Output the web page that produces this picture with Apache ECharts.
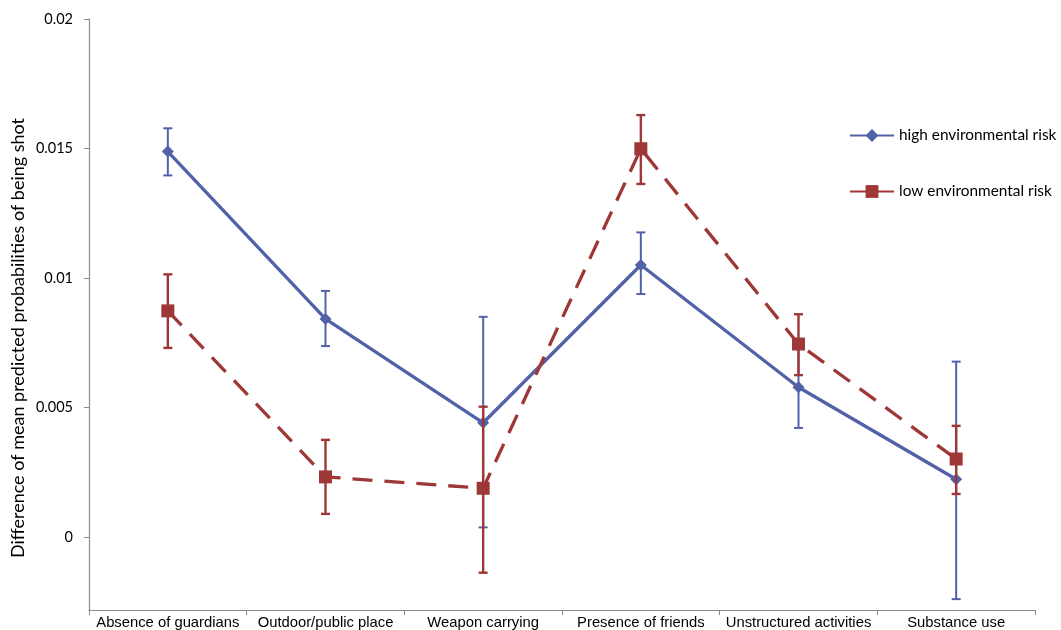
<!DOCTYPE html>
<html>
<head>
<meta charset="utf-8">
<script src="https://cdn.jsdelivr.net/npm/echarts@6/dist/echarts.min.js"></script>
<style>
html,body{margin:0;padding:0;background:#fff;}
#chart{width:1061px;height:630px;}
</style>
</head>
<body>
<div id="chart"></div>
<script>
// ---- data ----
var categories = ['Absence of guardians', 'Outdoor/public place', 'Weapon carrying', 'Presence of friends', 'Unstructured activities', 'Substance use'];
var highName = 'high environmental risk';
var lowName = 'low environmental risk';
var highValues = [0.01488, 0.00842, 0.00441, 0.01050, 0.00578, 0.00223];
var highLower  = [0.01396, 0.00737, 0.00037, 0.00938, 0.00421, -0.00240];
var highUpper  = [0.01578, 0.00950, 0.00850, 0.01176, 0.00740, 0.00677];
var lowValues  = [0.00873, 0.00232, 0.00188, 0.01499, 0.00745, 0.00301];
var lowLower   = [0.00730, 0.00089, -0.00138, 0.01363, 0.00625, 0.00166];
var lowUpper   = [0.01014, 0.00375, 0.00503, 0.01629, 0.00860, 0.00429];
var yTickValues = [0, 0.005, 0.01, 0.015, 0.02];
var yTickLabels = ['0', '0.005', '0.01', '0.015', '0.02'];
var yTitle = 'Difference of mean predicted probabilities of being shot';

var BLUE = '#5262A8';
var RED = '#9E3836';

function errData(lo, hi) {
  return lo.map(function (v, i) { return [i, v, hi[i]]; });
}
function errRender(color, lw) {
  return function (params, api) {
    var x = api.value(0);
    var top = api.coord([x, api.value(2)]);
    var bot = api.coord([x, api.value(1)]);
    var w = 4.5;
    var st = { stroke: color, lineWidth: lw };
    return {
      type: 'group',
      children: [
        { type: 'line', shape: { x1: top[0], y1: top[1], x2: bot[0], y2: bot[1] }, style: st },
        { type: 'line', shape: { x1: top[0] - w, y1: top[1], x2: top[0] + w, y2: top[1] }, style: st },
        { type: 'line', shape: { x1: bot[0] - w, y1: bot[1], x2: bot[0] + w, y2: bot[1] }, style: st }
      ]
    };
  };
}

var chart = echarts.init(document.getElementById('chart'), null, { renderer: 'canvas' });
chart.setOption({
  backgroundColor: '#ffffff',
  animation: false,
  grid: { left: 89, right: 26, top: 19, bottom: 20, containLabel: false },
  legend: {
    orient: 'vertical',
    left: 849,
    top: 128,
    padding: 0,
    itemWidth: 44,
    itemHeight: 16,
    itemGap: 41,
    data: [highName, lowName],
    lineStyle: { type: 'solid' },
    textStyle: { fontFamily: 'Lato', fontSize: 15.4, color: '#000' }
  },
  xAxis: {
    type: 'category',
    data: categories,
    boundaryGap: true,
    axisLine: { onZero: false, lineStyle: { color: '#8a8a8a', width: 1.2 } },
    axisTick: { show: true, length: 5, inside: false, lineStyle: { color: '#8a8a8a' } },
    axisLabel: { interval: 0, margin: 5, fontFamily: 'Liberation Sans', fontSize: 14.8, color: '#000' },
    splitLine: { show: false }
  },
  yAxis: {
    type: 'value',
    min: -0.00282,
    max: 0.02,
    axisLine: { show: true, lineStyle: { color: '#8a8a8a', width: 1.2 } },
    axisTick: { show: true, length: 5, customValues: yTickValues, lineStyle: { color: '#8a8a8a' } },
    axisLabel: {
      customValues: yTickValues,
      margin: 16,
      fontFamily: 'Lato',
      fontSize: 14.5,
      color: '#000',
      formatter: function (v) {
        for (var i = 0; i < yTickValues.length; i++) {
          if (Math.abs(yTickValues[i] - v) < 1e-9) return yTickLabels[i];
        }
        return '';
      }
    },
    splitLine: { show: false }
  },
  graphic: [{
    type: 'text',
    x: 18,
    y: 338,
    rotation: Math.PI / 2,
    style: {
      text: yTitle,
      fontFamily: 'Lato',
      fontSize: 18,
      fill: '#000',
      align: 'center',
      verticalAlign: 'middle'
    }
  }],
  series: [
    {
      type: 'custom',
      name: 'highErr',
      data: errData(highLower, highUpper),
      renderItem: errRender(BLUE, 2),
      z: 2,
      silent: true
    },
    {
      type: 'line',
      name: highName,
      data: highValues,
      symbol: 'diamond',
      symbolSize: 12,
      lineStyle: { color: BLUE, width: 3.3 },
      itemStyle: { color: BLUE },
      z: 3
    },
    {
      type: 'custom',
      name: 'lowErr',
      data: errData(lowLower, lowUpper),
      renderItem: errRender(RED, 2.4),
      z: 4,
      silent: true
    },
    {
      type: 'line',
      name: lowName,
      data: lowValues,
      symbol: 'rect',
      symbolSize: 13,
      lineStyle: { color: RED, width: 3.3, type: [20, 12] },
      itemStyle: { color: RED },
      z: 5
    }
  ]
});
</script>
</body>
</html>
